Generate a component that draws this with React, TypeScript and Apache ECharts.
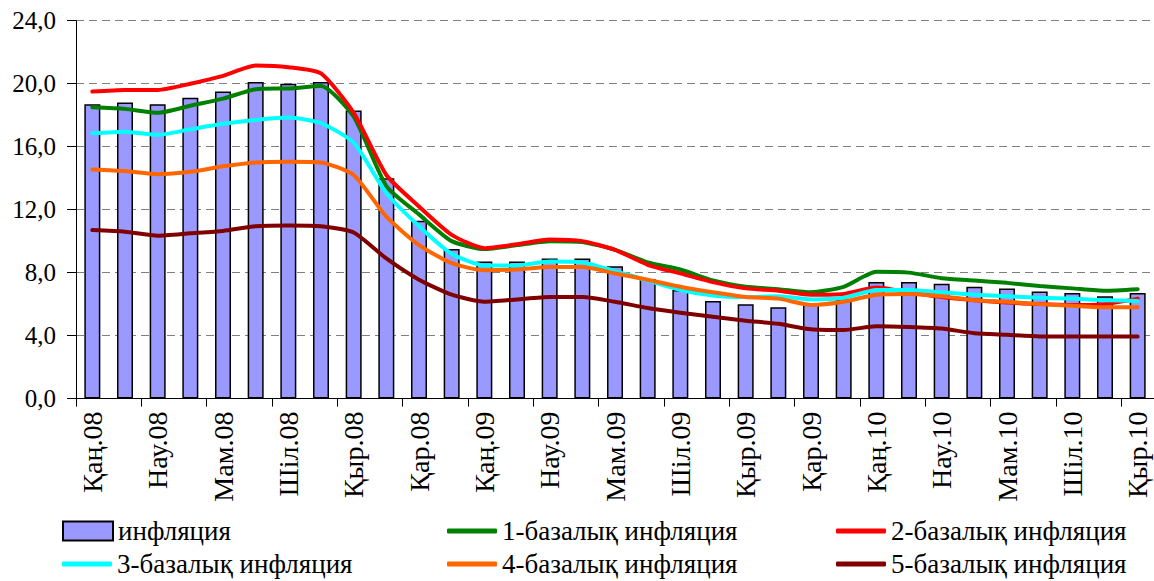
import React, { useEffect, useRef } from "react";
import * as echarts from "echarts";

const categories = [
  "Қаң.08", "Ақп.08", "Нау.08", "Сәу.08", "Мам.08", "Мау.08", "Шіл.08", "Там.08", "Қыр.08", "Қаз.08", "Қар.08", "Жел.08",
  "Қаң.09", "Ақп.09", "Нау.09", "Сәу.09", "Мам.09", "Мау.09", "Шіл.09", "Там.09", "Қыр.09", "Қаз.09", "Қар.09", "Жел.09",
  "Қаң.10", "Ақп.10", "Нау.10", "Сәу.10", "Мам.10", "Мау.10", "Шіл.10", "Там.10", "Қыр.10",
];

const inflation = [
  18.7, 18.8, 18.7, 19.1, 19.5, 20.1, 20.0, 20.1, 18.3, 14.0, 11.3, 9.5,
  8.7, 8.7, 8.9, 8.9, 8.4, 7.6, 6.9, 6.2, 6.0, 5.8, 6.0, 6.3,
  7.4, 7.4, 7.3, 7.1, 7.0, 6.8, 6.7, 6.5, 6.7,
];

const core1 = [
  18.5, 18.4, 18.15, 18.6, 19.05, 19.65, 19.7, 19.85, 17.9, 13.5, 11.7, 10.0,
  9.5, 9.75, 10.0, 9.95, 9.45, 8.65, 8.2, 7.5, 7.1, 6.95, 6.75, 7.1,
  8.05, 8.0, 7.65, 7.5, 7.35, 7.15, 7.0, 6.85, 6.95,
];

const core2 = [
  19.5, 19.6, 19.6, 20.0, 20.5, 21.15, 21.05, 20.65, 18.15, 14.2, 12.2, 10.4,
  9.55, 9.8, 10.1, 10.0, 9.45, 8.5, 7.95, 7.4, 7.0, 6.85, 6.6, 6.65,
  7.05, 6.75, 6.45, 6.25, 6.1, 6.0, 5.95, 6.0, 6.35,
];

const core3 = [
  16.85, 16.95, 16.75, 17.1, 17.45, 17.7, 17.85, 17.5, 16.25, 13.05, 10.95, 9.2,
  8.45, 8.45, 8.7, 8.65, 8.1, 7.5, 6.9, 6.55, 6.45, 6.5, 6.3, 6.4,
  6.9, 6.9, 6.75, 6.6, 6.5, 6.4, 6.35, 6.25, 6.2,
];

const core4 = [
  14.55, 14.45, 14.25, 14.4, 14.75, 15.0, 15.05, 15.0, 14.2, 11.55, 9.75, 8.6,
  8.15, 8.2, 8.35, 8.35, 7.95, 7.55, 7.1, 6.75, 6.45, 6.35, 5.95, 6.15,
  6.6, 6.65, 6.5, 6.25, 6.15, 6.0, 5.9, 5.8, 5.8,
];

const core5 = [
  10.7, 10.6, 10.35, 10.5, 10.65, 10.95, 11.0, 10.95, 10.55, 8.9, 7.55, 6.6,
  6.15, 6.3, 6.45, 6.45, 6.15, 5.75, 5.45, 5.2, 4.95, 4.75, 4.4, 4.35,
  4.6, 4.55, 4.45, 4.15, 4.05, 3.95, 3.95, 3.95, 3.95,
];

const seriesNames = [
  "инфляция",
  "1-базалық инфляция",
  "2-базалық инфляция",
  "3-базалық инфляция",
  "4-базалық инфляция",
  "5-базалық инфляция",
];

const lineColors = ["#008000", "#FF0000", "#00FFFF", "#FF6600", "#800000"];
const barColor = "#9999FF";

const FONT = "Liberation Serif";

export default function App() {
  const ref = useRef<HTMLDivElement>(null);

  useEffect(() => {
    if (!ref.current) return;
    const chart = echarts.init(ref.current, null, { renderer: "svg" });
    const lineData = [core1, core2, core3, core4, core5];
    const colLeft = [62, 447, 836];
    const rowTop = [517, 550];
    const place = [
      [0, 0],
      [1, 0],
      [2, 0],
      [0, 1],
      [1, 1],
      [2, 1],
    ];
    const legends = seriesNames.map((name, i) => ({
      orient: "horizontal",
      left: colLeft[place[i][0]],
      top: rowTop[place[i][1]],
      padding: 0,
      itemWidth: 50,
      itemHeight: i === 0 ? 19 : 5,
      itemGap: 0,
      icon: i === 0 ? "rect" : "roundRect",
      data: [name],
      textStyle: {
        fontFamily: FONT,
        fontSize: 27,
        color: "#000",
        lineHeight: 28,
        padding: [0, 0, 0, 0],
      },
    }));
    chart.setOption({
      animation: false,
      textStyle: { fontFamily: FONT },
      grid: { left: 76, right: 0, top: 20.7, bottom: 182.4, containLabel: false },
      legend: legends,
      xAxis: {
        type: "category",
        data: categories,
        boundaryGap: true,
        axisLine: { lineStyle: { color: "#000", width: 1 } },
        axisTick: { show: true, interval: 1, length: 8, lineStyle: { color: "#000" } },
        axisLabel: {
          interval: 1,
          rotate: 90,
          margin: 13,
          fontFamily: FONT,
          fontSize: 28,
          color: "#000",
        },
        splitLine: { show: false },
      },
      yAxis: {
        type: "value",
        min: 0,
        max: 24,
        interval: 4,
        axisLine: { show: true, lineStyle: { color: "#000", width: 1 } },
        axisTick: { show: true, length: 9, lineStyle: { color: "#000" } },
        axisLabel: {
          margin: 20,
          fontFamily: FONT,
          fontSize: 25,
          color: "#000",
          formatter: (v: number) => v.toFixed(1).replace(".", ","),
        },
        splitLine: {
          show: true,
          lineStyle: { color: "#808080", width: 1, type: [8, 5] },
        },
      },
      series: [
        {
          name: seriesNames[0],
          type: "bar",
          data: inflation,
          barWidth: 16,
          itemStyle: { color: barColor, borderColor: "#000", borderWidth: 1.5 },
        },
        ...lineData.map((d, i) => ({
          name: seriesNames[i + 1],
          type: "line",
          data: d,
          symbol: "none",
          showSymbol: false,
          smooth: 0.2,
          lineStyle: { color: lineColors[i], width: 4, cap: "round", join: "round" },
          itemStyle: { color: lineColors[i] },
        })),
      ],
    });
    return () => chart.dispose();
  }, []);

  return (
    <div
      ref={ref}
      style={{ position: "absolute", left: 0, top: 0, width: 1154, height: 581, background: "#fff" }}
    />
  );
}
